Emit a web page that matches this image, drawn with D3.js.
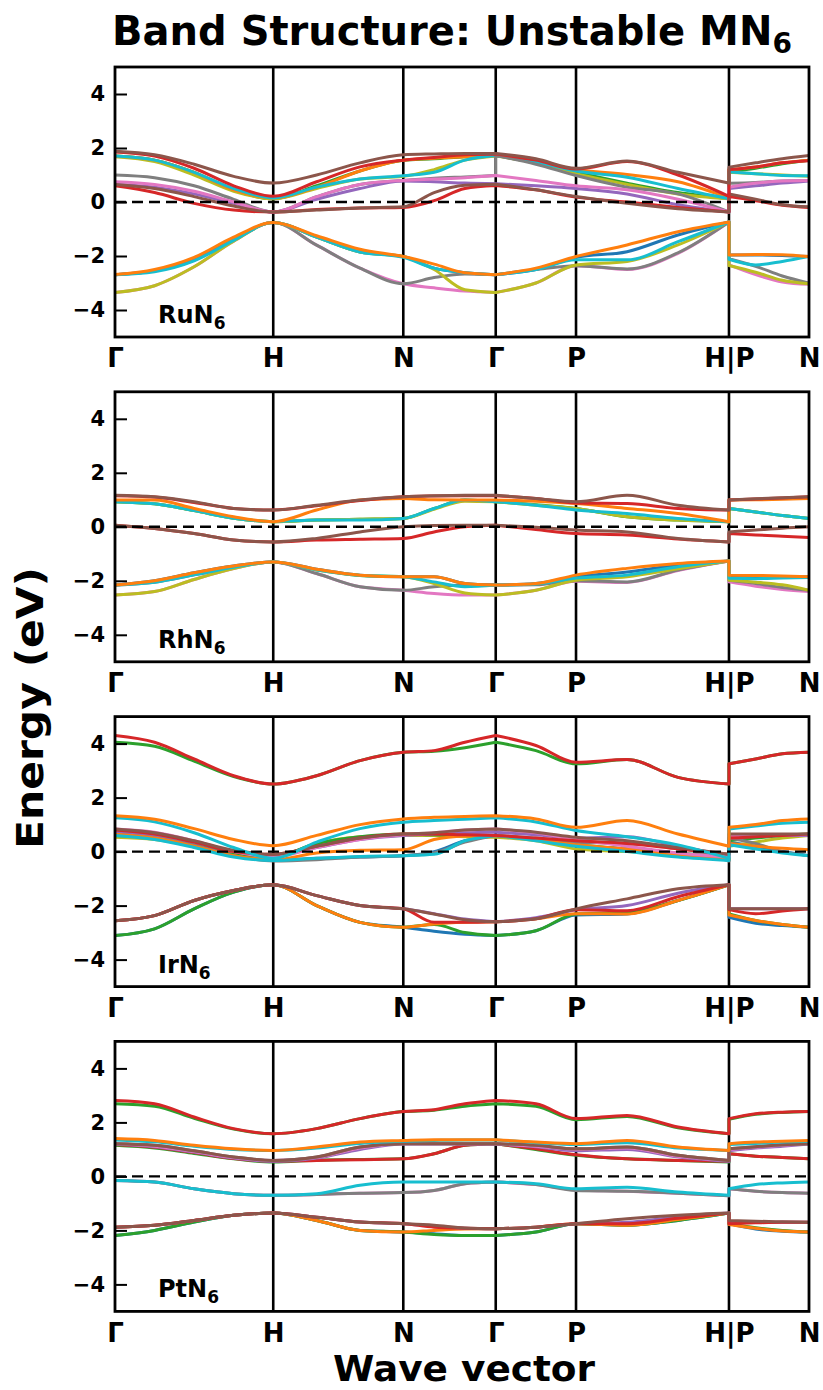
<!DOCTYPE html>
<html>
<head>
<meta charset="utf-8">
<script src="https://cdn.jsdelivr.net/npm/d3@7"></script>
<style>
  body { margin: 0; background: #fff; }
  text { font-family: "DejaVu Sans", sans-serif; font-weight: bold; fill: #000; }
</style>
</head>
<body>
<svg id="chart" width="823" height="1390"></svg>
<script>
// ---- k-path ----
const kLabels = ["Γ", "H", "N", "Γ", "P", "H|P", "N"];
const kTicks = [0, 0.228, 0.4154, 0.5486, 0.6643, 0.8847, 1.0];
// sampling points along Γ-H-N-Γ-P-H|P-N (repeated k = discontinuity)
const kGrid = [0, 0.057, 0.114, 0.171, 0.228,
               0.2905, 0.353, 0.4154,
               0.4598, 0.5042, 0.5486,
               0.5486,
               0.6065, 0.6643,
               0.7378, 0.8112, 0.8847,
               0.8847,
               0.9231, 0.9616, 1.0];
const energyTicks = [-4, -2, 0, 2, 4];
const energyRange = [-5, 5];

// ---- bands: [colour-cycle index, energies (eV) at kGrid] ----
const ruN6Bands = [
  [0, [-2.69,-2.55,-2.15,-1.4,-0.76, -1.3,-1.85,-2.02, -2.45,-2.62,-2.69, -2.69, -2.5,-2.05, -1.84,-1.22,-0.74, -1.96, -1.96,-1.98,-2.02]],
  [6, [-3.35,-3.1,-2.4,-1.45,-0.76, -1.6,-2.45,-3.03, -3.18,-3.3,-3.35, -3.35, -3.0,-2.36, -2.5,-1.9,-0.74, -2.33, -2.69,-2.96,-3.05]],
  [7, [-2.69,-2.55,-2.15,-1.4,-0.76, -1.6,-2.45,-3.03, -2.8,-2.67,-2.69, -2.69, -2.5,-2.36, -2.48,-1.88,-0.74, -2.1, -2.38,-2.74,-3.0]],
  [8, [-3.35,-3.1,-2.4,-1.45,-0.76, -1.3,-1.85,-2.02, -2.5,-3.25,-3.35, -3.35, -3.0,-2.33, -2.2,-1.59,-0.74, -2.35, -2.6,-2.9,-3.03]],
  [9, [-2.69,-2.58,-2.18,-1.42,-0.76, -1.3,-1.85,-2.05, -2.45,-2.62,-2.69, -2.69, -2.5,-2.14, -2.14,-1.47,-0.74, -2.12, -2.33,-2.2,-2.02]],
  [1, [-2.69,-2.5,-2.05,-1.3,-0.76, -1.25,-1.75,-2.02, -2.3,-2.62,-2.69, -2.69, -2.45,-2.02, -1.59,-1.1,-0.74, -1.96, -1.94,-1.95,-2.02]],
  [2, [1.7,1.55,1.1,0.45,0.12, 0.6,1.15,1.55, 1.6,1.68,1.72, 1.72, 1.45,1.1, 0.7,0.35,0.12, 1.12, 1.25,1.42,1.55]],
  [8, [1.68,1.5,1.0,0.4,0.12, 0.5,0.85,0.95, 1.2,1.55,1.7, 1.7, 1.45,1.05, 0.65,0.3,0.12, 1.1, 1.05,1.0,0.95]],
  [1, [1.7,1.55,1.1,0.45,0.15, 0.55,1.15,1.55, 1.62,1.68,1.72, 1.72, 1.5,1.2, 1.02,0.75,0.15, 1.2, 1.3,1.45,1.55]],
  [9, [1.7,1.55,1.1,0.5,0.15, 0.55,0.85,0.97, 1.1,1.55,1.72, 1.72, 1.48,1.15, 0.92,0.5,0.12, 1.12, 1.05,0.98,0.97]],
  [7, [1.0,0.9,0.6,0.1,-0.37, 0.2,0.65,0.8, 0.88,0.93,0.98, 1.72, 1.4,0.98, 0.55,0.3,-0.37, 0.69, 0.72,0.78,0.8]],
  [4, [0.65,0.55,0.3,-0.05,-0.37, 0.1,0.5,0.78, 0.75,0.7,0.68, 0.68, 0.6,0.5, 0.3,-0.1,-0.37, 0.5, 0.6,0.7,0.78]],
  [6, [0.75,0.65,0.4,0.0,-0.37, 0.2,0.65,0.8, 0.85,0.9,0.98, 0.98, 0.8,0.6, 0.45,0.1,-0.37, 0.55, 0.7,0.78,0.8]],
  [3, [0.6,0.35,-0.05,-0.3,-0.37, -0.28,-0.22,-0.2, 0.05,0.5,0.61, 0.61, 0.45,0.18, 0.0,-0.2,-0.37, 0.2, 0.05,-0.12,-0.2]],
  [5, [0.65,0.5,0.2,-0.15,-0.37, -0.3,-0.22,-0.18, 0.35,0.62,0.66, 0.66, 0.45,0.2, -0.05,-0.25,-0.37, 0.3, 0.1,-0.1,-0.18]],
  [3, [1.85,1.7,1.25,0.6,0.21, 0.75,1.3,1.55, 1.65,1.75,1.78, 1.78, 1.55,1.22, 1.5,1.0,0.21, 1.2, 1.3,1.45,1.53]],
  [5, [1.88,1.75,1.4,0.95,0.7, 1.0,1.45,1.75, 1.78,1.8,1.8, 1.8, 1.6,1.25, 1.52,1.1,0.7, 1.29, 1.45,1.6,1.72]]
];

const rhN6Bands = [
  [0, [-2.16,-2.0,-1.7,-1.45,-1.3, -1.57,-1.79,-1.85, -1.85,-2.1,-2.16, -2.16, -2.1,-1.85, -1.67,-1.42,-1.27, -1.85, -1.86,-1.86,-1.85]],
  [6, [-2.53,-2.4,-1.95,-1.55,-1.3, -1.73,-2.22,-2.35, -2.47,-2.53,-2.53, -2.53, -2.35,-2.02, -2.06,-1.62,-1.27, -2.04, -2.2,-2.32,-2.4]],
  [7, [-2.16,-2.05,-1.78,-1.5,-1.3, -1.73,-2.22,-2.35, -2.22,-2.16,-2.16, -2.16, -2.15,-2.0, -2.04,-1.6,-1.27, -1.98, -2.1,-2.25,-2.35]],
  [8, [-2.53,-2.4,-1.95,-1.55,-1.3, -1.6,-1.8,-1.85, -2.1,-2.45,-2.53, -2.53, -2.35,-1.98, -1.85,-1.55,-1.27, -1.98, -2.05,-2.15,-2.35]],
  [9, [-2.16,-2.05,-1.78,-1.5,-1.3, -1.6,-1.8,-1.85, -2.04,-2.22,-2.16, -2.16, -2.12,-1.9, -1.79,-1.48,-1.27, -1.91, -1.92,-1.9,-1.88]],
  [1, [-2.16,-2.0,-1.7,-1.45,-1.3, -1.57,-1.79,-1.85, -1.85,-2.1,-2.16, -2.16, -2.1,-1.79, -1.54,-1.36,-1.27, -1.79, -1.8,-1.82,-1.85]],
  [2, [0.93,0.85,0.6,0.32,0.19, 0.25,0.28,0.31, 0.68,0.99,0.93, 0.93, 0.82,0.68, 0.37,0.25,0.19, 0.68, 0.55,0.42,0.31]],
  [8, [0.93,0.85,0.6,0.32,0.19, 0.25,0.28,0.31, 0.65,0.95,0.93, 0.93, 0.8,0.68, 0.37,0.25,0.19, 0.68, 0.55,0.42,0.31]],
  [9, [0.93,0.85,0.6,0.32,0.19, 0.25,0.25,0.31, 0.68,0.99,0.93, 0.93, 0.8,0.62, 0.49,0.31,0.19, 0.68, 0.55,0.42,0.31]],
  [1, [0.99,0.99,0.68,0.37,0.19, 0.62,0.99,1.05, 1.0,0.99,0.99, 0.99, 0.95,0.86, 0.68,0.49,0.19, 0.99, 1.0,1.02,1.05]],
  [3, [1.15,1.1,0.9,0.68,0.62, 0.78,0.97,1.11, 1.14,1.15,1.15, 1.15, 1.05,0.88, 0.86,0.68,0.62, 0.99, 1.03,1.07,1.11]],
  [5, [1.17,1.11,0.93,0.68,0.62, 0.8,0.99,1.11, 1.15,1.17,1.17, 1.17, 1.05,0.93, 1.17,0.8,0.62, 0.99, 1.04,1.08,1.11]],
  [3, [0.06,-0.06,-0.25,-0.49,-0.56, -0.49,-0.46,-0.43, -0.19,0.0,0.06, 0.06, -0.1,-0.25, -0.3,-0.45,-0.56, -0.25, -0.3,-0.35,-0.4]],
  [5, [0.06,-0.06,-0.25,-0.49,-0.56, -0.43,-0.19,0.0, 0.05,0.06,0.06, 0.06, -0.02,-0.12, -0.19,-0.43,-0.56, -0.19, -0.12,-0.05,0.0]]
];

const irN6Bands = [
  [2, [4.05,3.9,3.35,2.78,2.5, 2.81,3.37,3.68, 3.72,3.85,4.05, 4.05, 3.74,3.25, 3.41,2.75,2.5, 3.25, 3.43,3.62,3.68]],
  [3, [4.3,4.05,3.43,2.81,2.5, 2.81,3.37,3.68, 3.74,4.05,4.3, 4.3, 3.93,3.31, 3.41,2.75,2.5, 3.25, 3.43,3.62,3.68]],
  [0, [0.6,0.5,0.2,-0.15,-0.3, -0.25,-0.2,-0.15, 0.0,0.4,0.6, 0.6, 0.45,0.22, 0.1,-0.1,-0.3, 0.35, 0.2,0.0,-0.15]],
  [8, [0.53,0.45,0.2,-0.1,-0.2, 0.3,0.55,0.6, 0.6,0.55,0.53, 0.53, 0.4,0.1, 0.0,-0.1,-0.2, 0.2, 0.35,0.5,0.6]],
  [2, [0.6,0.5,0.25,-0.05,-0.2, 0.3,0.55,0.65, 0.62,0.6,0.6, 0.6, 0.45,0.25, 0.1,-0.05,-0.2, 0.41, 0.5,0.6,0.65]],
  [7, [0.7,0.55,0.25,-0.15,-0.35, -0.3,-0.2,-0.15, -0.05,0.35,0.6, 0.6, 0.5,0.35, 0.3,0.15,-0.35, 0.5, 0.3,0.0,-0.15]],
  [1, [0.65,0.5,0.2,-0.15,-0.3, -0.05,0.05,0.07, 0.45,0.58,0.6, 0.6, 0.45,0.25, 0.1,-0.1,-0.3, 0.3, 0.2,0.12,0.07]],
  [9, [0.6,0.45,0.15,-0.2,-0.33, -0.25,-0.18,-0.15, -0.1,0.4,0.6, 0.6, 0.4,0.2, 0.0,-0.2,-0.33, 0.25, 0.1,-0.05,-0.15]],
  [4, [0.75,0.62,0.35,0.0,-0.15, 0.15,0.45,0.6, 0.65,0.7,0.72, 0.72, 0.62,0.5, 0.55,0.2,-0.15, 0.55, 0.58,0.6,0.6]],
  [6, [0.84,0.72,0.4,0.0,-0.2, 0.15,0.45,0.62, 0.7,0.8,0.84, 0.84, 0.7,0.45, 0.2,-0.05,-0.2, 0.59, 0.6,0.62,0.62]],
  [3, [0.8,0.65,0.35,0.0,-0.1, 0.2,0.5,0.65, 0.65,0.62,0.6, 0.6, 0.5,0.4, 0.3,0.1,-0.1, 0.5, 0.55,0.6,0.65]],
  [5, [0.84,0.7,0.4,0.05,-0.1, 0.2,0.5,0.65, 0.7,0.8,0.84, 0.84, 0.72,0.53, 0.4,0.15,-0.1, 0.65, 0.65,0.65,0.65]],
  [9, [1.25,1.1,0.7,0.15,-0.25, 0.35,0.85,1.09, 1.15,1.2,1.25, 1.25, 1.1,0.78, 0.55,0.25,-0.25, 0.84, 0.95,1.05,1.09]],
  [1, [1.33,1.2,0.85,0.45,0.22, 0.6,1.0,1.21, 1.27,1.3,1.33, 1.33, 1.21,0.9, 1.15,0.65,0.2, 0.9, 1.0,1.15,1.21]],
  [0, [-3.11,-2.86,-2.12,-1.5,-1.23, -2.0,-2.62,-2.8, -2.95,-3.06,-3.11, -3.11, -2.93,-2.35, -2.31,-1.81,-1.23, -2.43, -2.65,-2.74,-2.8]],
  [2, [-3.11,-2.86,-2.12,-1.5,-1.23, -2.0,-2.62,-2.8, -2.7,-3.0,-3.11, -3.11, -2.93,-2.31, -2.25,-1.81,-1.23, -2.31, -2.55,-2.7,-2.8]],
  [1, [-2.56,-2.37,-1.81,-1.44,-1.23, -2.0,-2.62,-2.8, -2.68,-2.62,-2.6, -2.6, -2.49,-2.3, -2.31,-1.81,-1.23, -2.35, -2.55,-2.7,-2.8]],
  [4, [-2.56,-2.37,-1.81,-1.44,-1.23, -1.63,-2.0,-2.12, -2.3,-2.5,-2.6, -2.6, -2.45,-2.15, -2.0,-1.54,-1.23, -2.12, -2.12,-2.12,-2.12]],
  [3, [-2.56,-2.37,-1.81,-1.44,-1.23, -1.63,-2.0,-2.12, -2.62,-2.62,-2.6, -2.6, -2.49,-2.15, -2.19,-1.67,-1.23, -2.15, -2.3,-2.2,-2.12]],
  [5, [-2.56,-2.37,-1.81,-1.44,-1.23, -1.63,-2.0,-2.12, -2.31,-2.52,-2.6, -2.6, -2.49,-2.12, -1.75,-1.38,-1.23, -2.12, -2.12,-2.12,-2.12]]
];

const ptN6Bands = [
  [2, [2.69,2.6,2.15,1.75,1.58, 1.77,2.14,2.4, 2.45,2.6,2.69, 2.69, 2.6,2.1, 2.22,1.8,1.58, 2.12, 2.3,2.37,2.4]],
  [3, [2.81,2.69,2.2,1.77,1.58, 1.77,2.14,2.4, 2.47,2.69,2.81, 2.81, 2.69,2.14, 2.26,1.83,1.58, 2.14, 2.32,2.38,2.4]],
  [2, [1.15,1.05,0.85,0.65,0.53, 0.6,0.63,0.65, 0.84,1.15,1.21, 1.21, 1.0,0.78, 0.65,0.59,0.53, 0.84, 0.75,0.7,0.65]],
  [3, [1.18,1.08,0.88,0.66,0.56, 0.59,0.62,0.65, 0.84,1.15,1.21, 1.21, 1.02,0.8, 0.65,0.59,0.56, 0.84, 0.75,0.7,0.65]],
  [4, [1.2,1.1,0.9,0.68,0.56, 0.68,1.0,1.2, 1.2,1.2,1.2, 1.2, 1.1,0.95, 1.0,0.72,0.56, 0.95, 1.05,1.12,1.2]],
  [6, [1.21,1.12,0.92,0.7,0.59, 0.7,1.05,1.21, 1.21,1.21,1.21, 1.21, 1.12,1.0, 1.05,0.75,0.59, 1.0, 1.08,1.15,1.21]],
  [7, [1.21,1.15,0.95,0.72,0.59, 0.72,1.09,1.21, 1.21,1.21,1.21, 1.21, 1.15,1.02, 1.09,0.78,0.59, 1.02, 1.1,1.17,1.21]],
  [5, [1.21,1.15,0.95,0.72,0.59, 0.72,1.09,1.21, 1.21,1.21,1.21, 1.21, 1.15,1.02, 1.09,0.78,0.59, 1.02, 1.1,1.17,1.21]],
  [9, [1.35,1.28,1.12,1.0,0.96, 1.05,1.22,1.3, 1.33,1.35,1.35, 1.35, 1.25,1.18, 1.25,1.05,0.96, 1.18, 1.22,1.27,1.3]],
  [1, [1.4,1.33,1.15,1.02,0.96, 1.09,1.27,1.33, 1.36,1.36,1.36, 1.36, 1.27,1.21, 1.33,1.09,0.96, 1.21, 1.27,1.3,1.33]],
  [6, [-0.15,-0.21,-0.46,-0.64,-0.7, -0.67,-0.62,-0.6, -0.52,-0.27,-0.21, -0.21, -0.3,-0.5, -0.55,-0.62,-0.72, -0.46, -0.55,-0.6,-0.62]],
  [7, [-0.15,-0.21,-0.46,-0.64,-0.7, -0.67,-0.62,-0.6, -0.52,-0.27,-0.21, -0.21, -0.3,-0.52, -0.55,-0.62,-0.72, -0.46, -0.55,-0.6,-0.62]],
  [9, [-0.15,-0.21,-0.46,-0.64,-0.7, -0.64,-0.33,-0.21, -0.21,-0.21,-0.21, -0.21, -0.27,-0.46, -0.4,-0.58,-0.7, -0.46, -0.3,-0.24,-0.21]],
  [0, [-2.19,-2.0,-1.69,-1.44,-1.36, -1.63,-2.0,-2.06, -2.12,-2.19,-2.19, -2.19, -2.06,-1.75, -1.81,-1.63,-1.36, -1.75, -1.95,-2.03,-2.06]],
  [2, [-2.19,-2.0,-1.69,-1.44,-1.36, -1.63,-2.0,-2.06, -2.15,-2.19,-2.19, -2.19, -2.06,-1.75, -1.81,-1.63,-1.36, -1.75, -1.9,-2.0,-2.06]],
  [1, [-1.88,-1.81,-1.63,-1.44,-1.36, -1.63,-2.0,-2.06, -2.0,-1.95,-1.94, -1.94, -1.88,-1.75, -1.81,-1.6,-1.36, -1.78, -1.92,-2.02,-2.06]],
  [4, [-1.88,-1.81,-1.63,-1.44,-1.36, -1.51,-1.69,-1.75, -1.85,-1.92,-1.94, -1.94, -1.88,-1.75, -1.7,-1.5,-1.36, -1.7, -1.7,-1.7,-1.7]],
  [3, [-1.88,-1.81,-1.63,-1.44,-1.36, -1.51,-1.69,-1.75, -1.88,-1.92,-1.94, -1.94, -1.88,-1.75, -1.75,-1.55,-1.36, -1.75, -1.72,-1.7,-1.7]],
  [5, [-1.88,-1.81,-1.63,-1.44,-1.36, -1.51,-1.69,-1.75, -1.81,-1.91,-1.94, -1.94, -1.88,-1.75, -1.57,-1.44,-1.36, -1.63, -1.66,-1.68,-1.7]]
];

const compounds = ["RuN", "RhN", "IrN", "PtN"];
const subscripts = ["6", "6", "6", "6"];
const bandSets = [ruN6Bands, rhN6Bands, irN6Bands, ptN6Bands];

// ---- layout ----
const svg = d3.select("#chart");
const palette = d3.schemeCategory10;
const left = 115, right = 809;
const panelH = 270, firstTop = 67, panelStep = 324.8;

const x = d3.scaleLinear().domain([0, 1]).range([left, right]);

// split the k-grid into continuous pieces at repeated k values
const breaks = [0];
kGrid.forEach((k, i) => { if (i > 0 && k === kGrid[i - 1]) breaks.push(i); });
breaks.push(kGrid.length);

bandSets.forEach((bands, p) => {
  const top = firstTop + p * panelStep;
  const y = d3.scaleLinear().domain(energyRange).range([top + panelH, top]);
  const g = svg.append("g");

  const clipId = "clip" + p;
  svg.append("defs").append("clipPath").attr("id", clipId)
    .append("rect").attr("x", left).attr("y", top).attr("width", right - left).attr("height", panelH);

  // high-symmetry verticals
  g.selectAll("line.ksym").data(kTicks.slice(1, -1)).join("line")
    .attr("x1", d => x(d)).attr("x2", d => x(d))
    .attr("y1", top).attr("y2", top + panelH)
    .attr("stroke", "#000").attr("stroke-width", 2.6);

  const line = d3.line().x(d => x(d[0])).y(d => y(d[1])).curve(d3.curveMonotoneX);
  const bandPath = e => {
    const pts = kGrid.map((k, i) => [k, e[i]]);
    let s = "";
    for (let b = 0; b < breaks.length - 1; b++) {
      const piece = line(pts.slice(breaks[b], breaks[b + 1]));
      s += b === 0 ? piece : "L" + piece.slice(1);
    }
    return s;
  };

  g.append("g").attr("clip-path", `url(#${clipId})`)
    .selectAll("path").data(bands).join("path")
    .attr("d", d => bandPath(d[1]))
    .attr("fill", "none")
    .attr("stroke", d => palette[d[0]])
    .attr("stroke-width", 3)
    .attr("stroke-linejoin", "round");

  // Fermi level
  g.append("line")
    .attr("x1", left).attr("x2", right)
    .attr("y1", y(0)).attr("y2", y(0))
    .attr("stroke", "#000").attr("stroke-width", 2.4)
    .attr("stroke-dasharray", "11,6");

  // frame
  g.append("rect")
    .attr("x", left).attr("y", top).attr("width", right - left).attr("height", panelH)
    .attr("fill", "none").attr("stroke", "#000").attr("stroke-width", 2.8);

  // energy axis
  const yAxis = d3.axisLeft(y).tickValues(energyTicks).tickSize(-12).tickPadding(10)
    .tickFormat(d => d < 0 ? "\u2212" + Math.abs(d) : String(d));
  const ya = g.append("g").attr("transform", `translate(${left},0)`).call(yAxis);
  ya.select(".domain").remove();
  ya.selectAll(".tick line").attr("stroke", "#000").attr("stroke-width", 2);
  ya.selectAll(".tick text").style("font-size", "21px").attr("font-family", null);

  // k-point labels
  const xAxis = d3.axisBottom(x).tickValues(kTicks).tickSize(0).tickPadding(12)
    .tickFormat((d, i) => kLabels[i]);
  const xa = g.append("g").attr("transform", `translate(0,${top + panelH})`).call(xAxis);
  xa.select(".domain").remove();
  xa.selectAll(".tick text").style("font-size", "26px").attr("font-family", null);

  // compound label
  const lab = g.append("text").attr("x", left + 43).attr("y", top + panelH - 14)
    .style("font-size", "24px");
  lab.append("tspan").text(compounds[p]);
  lab.append("tspan").attr("dy", 6).style("font-size", "17px").text(subscripts[p]);
});

// title
const title = svg.append("text").attr("x", 452).attr("y", 45)
  .attr("text-anchor", "middle").style("font-size", "40px");
title.append("tspan").text("Band Structure: Unstable MN");
title.append("tspan").attr("dy", 8).style("font-size", "28px").text("6");

// axis titles
svg.append("text").attr("x", 464).attr("y", 1381).attr("text-anchor", "middle")
  .style("font-size", "35px")
  .attr("textLength", 262).attr("lengthAdjust", "spacingAndGlyphs")
  .text("Wave vector");
svg.append("text").attr("transform", "translate(43,708) rotate(-90)")
  .attr("text-anchor", "middle").style("font-size", "37px")
  .attr("textLength", 282).attr("lengthAdjust", "spacingAndGlyphs")
  .text("Energy (eV)");
</script>
</body>
</html>
